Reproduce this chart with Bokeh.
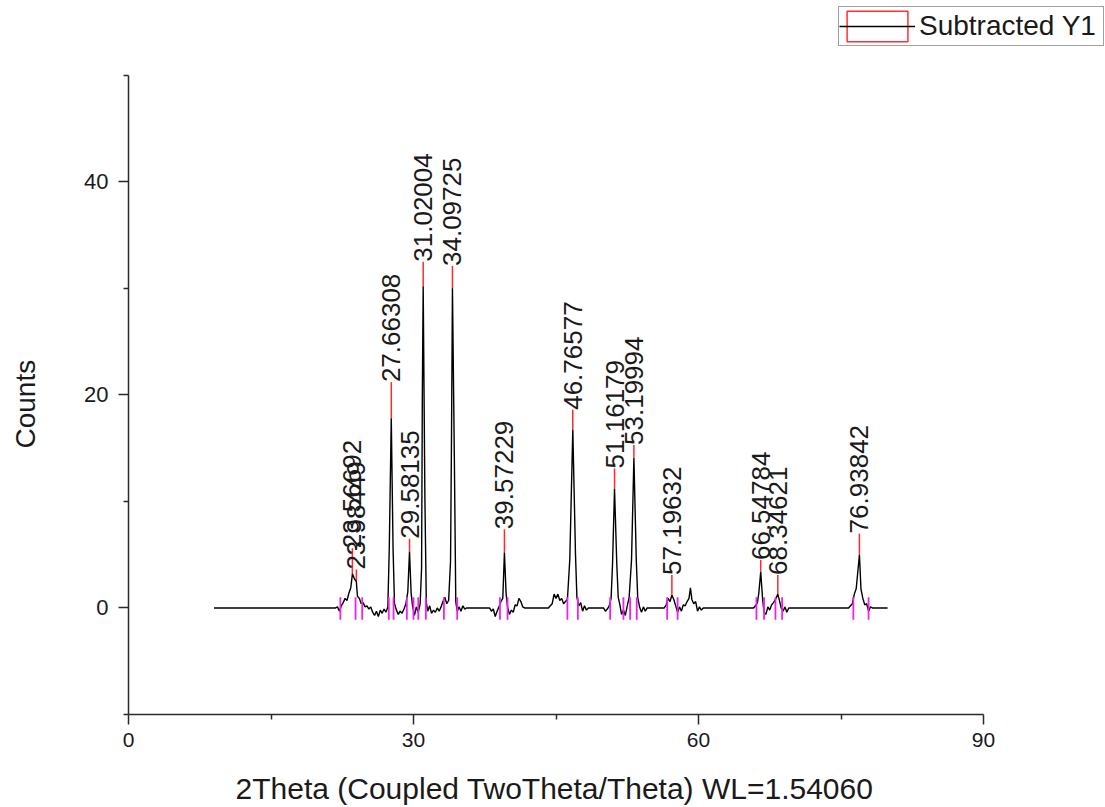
import math

from bokeh.core.properties import value
from bokeh.embed import file_html
from bokeh.models import FixedTicker, Legend, LegendItem, Range1d
from bokeh.plotting import figure
from bokeh.resources import INLINE

# Background-subtracted diffractogram (2theta in degrees, counts)
two_theta = [
    9.0, 21.8, 22.0, 22.2, 22.4, 22.6, 22.8, 23.0, 23.2, 23.4, 23.57, 23.8, 23.98,
    24.1, 24.3, 24.5, 24.7, 24.9, 25.1, 25.3, 25.5, 25.7, 25.9, 26.1, 26.3, 26.5,
    26.7, 26.9, 27.1, 27.3, 27.45, 27.66, 27.85, 28.0, 28.2, 28.4, 28.6, 28.8, 29.0,
    29.2, 29.4, 29.58, 29.75, 29.9, 30.1, 30.3, 30.5, 30.7, 30.85, 30.93, 31.02,
    31.2, 31.35, 31.5, 31.7, 31.9, 32.1, 32.3, 32.5, 32.7, 32.9, 33.1, 33.3, 33.5,
    33.7, 33.9, 34.0, 34.1, 34.3, 34.45, 34.6, 34.8, 35.0, 35.2, 35.4, 35.6, 38.0,
    38.2, 38.4, 38.6, 38.8, 39.0, 39.2, 39.4, 39.57, 39.75, 39.9, 40.1, 40.3, 40.5,
    40.7, 40.9, 41.1, 41.3, 41.5, 41.7, 44.2, 44.4, 44.6, 44.8, 45.0, 45.2, 45.4,
    45.6, 45.8, 46.0, 46.2, 46.45, 46.77, 47.05, 47.2, 47.4, 47.6, 47.8, 48.0, 48.2,
    48.4, 50.0, 50.2, 50.4, 50.6, 50.8, 50.95, 51.16, 51.4, 51.55, 51.7, 51.9, 52.1,
    52.3, 52.5, 52.7, 52.95, 53.2, 53.45, 53.6, 53.8, 54.0, 54.2, 54.4, 54.6, 56.4,
    56.6, 56.8, 57.0, 57.2, 57.4, 57.6, 57.8, 58.0, 58.2, 58.4, 58.6, 58.8, 59.0,
    59.15, 59.3, 59.5, 59.7, 59.9, 60.1, 60.3, 60.5, 65.8, 66.0, 66.2, 66.35, 66.55,
    66.75, 66.9, 67.1, 67.3, 67.5, 67.7, 67.9, 68.1, 68.35, 68.55, 68.7, 68.9, 69.1,
    69.3, 69.5, 75.8, 76.0, 76.2, 76.4, 76.6, 76.94, 77.1, 77.3, 77.5, 77.7, 77.9,
    78.1, 78.3, 79.9,
]
counts = [
    0.0, 0.0, 0.1, -0.3, 0.2, 0.5, 0.9, 0.7, 1.4, 1.9, 3.2, 2.7, 2.5,
    1.1, 0.9, 0.4, 0.5, 0.1, 0.2, -0.1, 0.1, -0.4, -0.7, -0.3, -0.8, -0.2,
    -0.5, -0.1, -0.4, 0.1, 5.6, 17.8, 5.5, 0.4, -0.2, -0.6, -0.3, -0.5, -0.1,
    0.4, 1.5, 5.3, 1.4, 0.2, -0.7, 0.1, -0.4, 0.4, 3.7, 19.9, 30.2,
    10.3, 0.5, -0.3, 0.2, -0.5, -0.2, -0.4, 0.0, -0.3, 0.1, 0.6, 1.0, 0.4,
    0.7, 4.4, 16.0, 30.0, 14.1, 0.6, -0.3, 0.1, -0.3, 0.2, -0.1, 0.0, 0.0,
    -0.3, -0.1, -0.8, -0.3, 0.1, 0.6, 0.9, 5.2, 1.3, 0.1, -0.6, -0.2, -0.4,
    0.3, 0.2, 0.9, 0.6, 0.1, 0.0, 0.0, 0.2, 0.4, 1.3, 0.9, 1.3, 0.7,
    0.9, 0.4, 0.6, 0.8, 4.5, 16.7, 5.1, 1.0, 0.2, 0.5, -0.3, 0.2, -0.2,
    0.0, 0.0, -0.3, -0.1, 0.2, 0.9, 4.1, 11.2, 4.1, 1.0, 0.4, -0.6, -0.2,
    -0.7, 0.2, 1.0, 4.5, 14.1, 4.5, 1.0, 0.1, -0.4, 0.1, -0.3, 0.0, 0.0,
    0.3, 0.9, 0.6, 1.2, 0.8, 0.2, -0.4, 0.1, -0.3, 0.3, 0.2, 0.6, 0.9,
    1.9, 0.8, 0.4, 0.6, -0.3, 0.1, -0.2, 0.0, 0.0, 0.2, 0.5, 1.4, 3.4,
    0.8, -0.4, -0.6, 0.1, -0.2, 0.3, 0.5, 0.8, 1.3, 0.6, 0.0, -0.3, 0.1,
    -0.4, 0.0, 0.0, 0.2, 0.4, 1.3, 1.8, 5.0, 1.8, 0.9, 0.3, 0.4, -0.3,
    0.1, 0.0, 0.0,
]

# Picked peaks: centre, apex height and where the centre label starts
peak_pos = [23.56692, 23.98449, 27.66308, 29.58135, 31.02004, 34.09725, 39.57229,
            46.76577, 51.16179, 53.19994, 57.19632, 66.54784, 68.34621, 76.93842]
peak_top = [3.2, 2.5, 17.8, 5.3, 30.2, 30.0, 5.2, 16.7, 11.2, 14.1, 1.2, 3.4, 1.3, 5.0]
label_base = [5.6, 3.6, 21.2, 6.5, 32.5, 32.1, 7.4, 18.6, 13.1, 15.3, 3.1, 4.5, 3.1, 7.0]
peak_labels = [f"{v:.5f}" for v in peak_pos]

# Integration limits of the picked peaks
bound_pos = [22.3, 23.9, 24.6, 27.4, 27.9, 29.3, 30.0, 30.5, 31.3, 33.2, 34.6, 39.1,
             39.9, 46.2, 47.3, 50.7, 52.1, 52.8, 53.5, 56.7, 57.8, 66.1, 66.9, 68.1,
             68.8, 76.3, 77.9]

x_span = (0, 90)
y_span = (-10, 50)
x_ticks = [0, 30, 60, 90]
x_minor = [15, 45, 75]
y_ticks = [0, 20, 40]
y_minor = [-10, 10, 30, 50]

x_title = "2Theta (Coupled TwoTheta/Theta) WL=1.54060"
y_title = "Counts"
series_name = "Subtracted Y1"

FONT = "Liberation Sans"
INK = "#1a1a1a"
NBSP = "\u00a0"

# Page geometry (pixels). The frame runs to the top and right page edges so the
# legend can sit above/right of the axes; the axes themselves are bounded.
W, H = 1105, 807
AX_LEFT, AX_RIGHT, AX_TOP, AX_BOTTOM = 128, 983, 75, 716
x_per_px = (x_span[1] - x_span[0]) / (AX_RIGHT - AX_LEFT)
y_per_px = (y_span[1] - y_span[0]) / (AX_BOTTOM - AX_TOP)
x_range = Range1d(x_span[0], x_span[1] + (W - AX_RIGHT) * x_per_px)
y_range = Range1d(y_span[0], y_span[1] + AX_TOP * y_per_px)

# axis titles are centred on the whole frame; trailing no-break spaces move
# them back to the middle of the bounded axes
p = figure(
    width=W, height=H,
    x_range=x_range, y_range=y_range,
    output_backend="svg", toolbar_location=None,
    min_border_left=AX_LEFT, min_border_right=0,
    min_border_top=0, min_border_bottom=H - AX_BOTTOM,
    x_axis_label=x_title + NBSP * 15,
    y_axis_label=y_title + NBSP * 12,
)
p.outline_line_color = None
p.xgrid.visible = False
p.ygrid.visible = False

p.xaxis.ticker = FixedTicker(ticks=x_ticks, minor_ticks=x_minor)
p.yaxis.ticker = FixedTicker(ticks=y_ticks, minor_ticks=y_minor)
p.xaxis.bounds = x_span
p.yaxis.bounds = y_span
for ax in (p.xaxis[0], p.yaxis[0]):
    ax.axis_line_color = "#2a2a2a"
    ax.axis_line_width = 1.5
    ax.major_tick_line_color = "#2a2a2a"
    ax.major_tick_line_width = 1.5
    ax.minor_tick_line_color = "#2a2a2a"
    ax.minor_tick_line_width = 1.5
    ax.major_tick_in = 0
    ax.major_tick_out = 10
    ax.minor_tick_in = 0
    ax.minor_tick_out = 5
    ax.major_label_text_font = FONT
    ax.major_label_text_color = INK
    ax.axis_label_text_font = FONT
    ax.axis_label_text_font_style = "normal"
    ax.axis_label_text_color = INK

p.xaxis.major_label_text_font_size = "21px"
p.yaxis.major_label_text_font_size = "22px"
p.xaxis.axis_label_text_font_size = "30px"
p.yaxis.axis_label_text_font_size = "28px"
p.xaxis.major_label_standoff = 8
p.yaxis.major_label_standoff = 10
p.xaxis.axis_label_standoff = 22
p.yaxis.axis_label_standoff = 40

# red leaders from each apex up to its label
p.segment(x0=peak_pos, y0=peak_top, x1=peak_pos, y1=label_base,
          line_color="#ff2a2a", line_width=1.5)

# box renderer with no drawable extent, only used for the legend swatch
nan = float("nan")
swatch = p.quad(left=[nan], right=[nan], top=[nan], bottom=[nan],
                fill_color="white", fill_alpha=0.0,
                line_color="#ff3030", line_width=1.5)

trace = p.line(two_theta, counts, line_color="black", line_width=1.4)

p.segment(x0=bound_pos, y0=[-1.1] * len(bound_pos), x1=bound_pos, y1=[1.0] * len(bound_pos),
          line_color="#f020f0", line_width=1.8)

p.text(x=peak_pos, y=label_base, text=peak_labels, angle=math.pi / 2,
       text_align="left", text_baseline="middle",
       text_font=value(FONT), text_font_size="26px", text_color=INK)

# legend box: left edge at x=838 px, bottom edge at y=48 px from the page top
legend = Legend(
    items=[LegendItem(label=series_name, renderers=[swatch, trace])],
    location=(838 - AX_LEFT, AX_BOTTOM - 48),
    margin=0, padding=0, spacing=0,
    glyph_width=76, glyph_height=38, label_standoff=4,
    label_height=38, label_width=184,
    label_text_font=FONT, label_text_font_size="28px", label_text_color=INK,
    border_line_color="#444444", border_line_width=1.5,
    background_fill_color="white", background_fill_alpha=1.0,
)
p.add_layout(legend, "center")

open("out.html", "w").write(file_html(p, INLINE))
